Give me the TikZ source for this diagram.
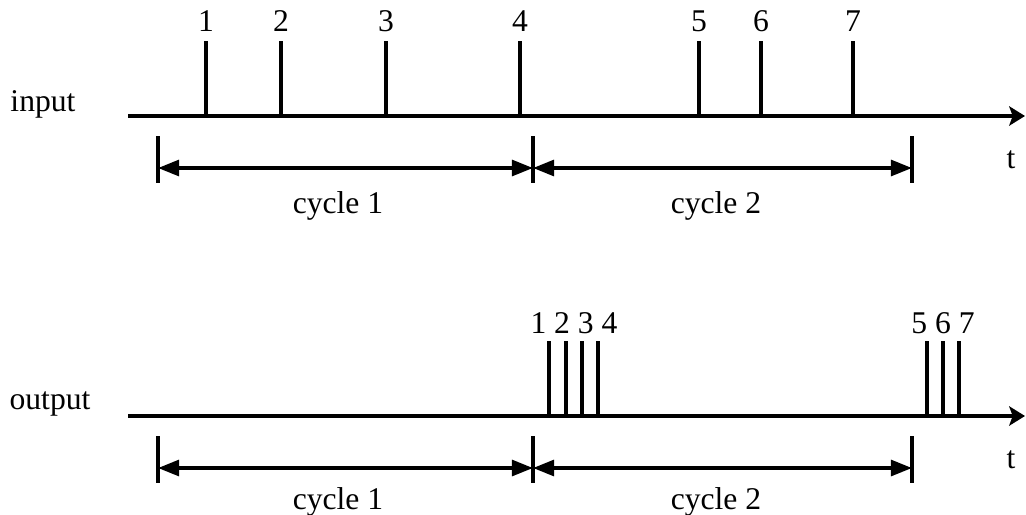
\documentclass[tikz,border=0pt]{standalone}
\usepackage{fontspec}
\setmainfont{Liberation Serif}
\usetikzlibrary{arrows.meta}

\begin{document}
\begin{tikzpicture}[x=0.02cm, y=-0.02cm, line width=2pt,
	every node/.style={font=\fontsize{18}{22}\selectfont},
	axis/.style={-{Stealth[length=9pt, width=11pt, inset=2pt]}},
	span/.style={{Triangle[length=12pt, width=9pt]}-{Triangle[length=12pt, width=9pt]}}]
	\useasboundingbox (0,0) rectangle (1026,514);

	% time axes
	\node (input) at (43,104) {input};
	\node (output) at (50,404) {output};
	\coordinate (in0) at (128,116);
	\coordinate (in1) at (1025,116);
	\coordinate (out0) at (128,416);
	\coordinate (out1) at (1025,416);
	\draw[axis] (in0) -- (in1);
	\draw[axis] (out0) -- (out1);
	\node (tin) at (1011,160) {t};
	\node (tout) at (1011,460) {t};

	% events arriving at the input
	\foreach \x/\n in {206/1, 281/2, 386/3, 520/4, 699/5, 761/6, 853/7} {
		\draw (\x,116) -- (\x,41);
		\node (ev\n) at (\x,21) {\n};
	}

	% events released at the output
	\foreach \x in {549, 566, 582, 598, 927, 943, 959}
		\draw (\x,416) -- (\x,341);
	\node (burst1) at (574,323) {1 2 3 4};
	\node (burst2) at (943,323) {5 6 7};

	% cycles under both axes
	\foreach \y/\dy in {0/206, 300/502} {
		\foreach \x in {158, 533, 912}
			\draw (\x,136+\y) -- (\x,183+\y);
		\draw[span] (158,168+\y) -- (533,168+\y);
		\draw[span] (533,168+\y) -- (912,168+\y);
		\node at (338,\dy) {cycle 1};
		\node at (716,\dy) {cycle 2};
	}
\end{tikzpicture}
\end{document}
